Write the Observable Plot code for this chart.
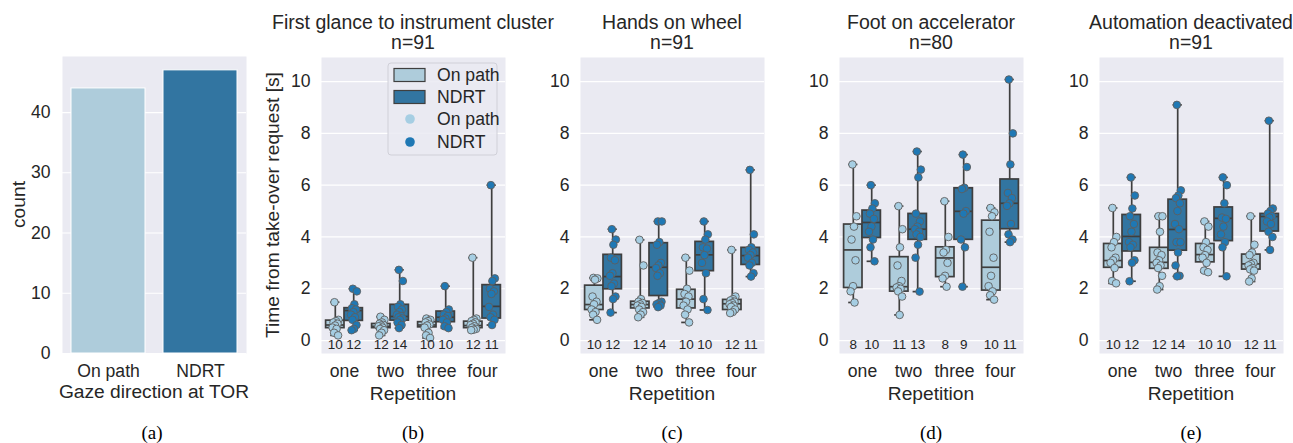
<!DOCTYPE html>
<html><head><meta charset="utf-8">
<script src="https://cdn.jsdelivr.net/npm/d3@7"></script>
<script src="https://cdn.jsdelivr.net/npm/@observablehq/plot@0.6"></script>
<style>
body{margin:0;background:#fff;}
#root{position:relative;width:1293px;height:443px;overflow:hidden;font-family:"Liberation Sans",Arial,sans-serif;}
#root svg{position:absolute;top:0;}
</style></head><body><div id="root"></div>
<script>
// ---------- data ----------
const reps = ["one", "two", "three", "four"];
const groups = ["On path", "NDRT"];
const gazeCounts = [44, 47];
const panelTitles = ["First glance to instrument cluster", "Hands on wheel", "Foot on accelerator", "Automation deactivated"];
const panelN = [91, 91, 80, 91];
const captions = ["(a)", "(b)", "(c)", "(d)", "(e)"];
const countTicks = [0, 10, 20, 30, 40];
const timeTicks = [0, 2, 4, 6, 8, 10];

// box statistics per repetition: [min, q1, median, q3, max]
const glanceOnPathBox = [[0.2, 0.48, 0.6, 0.77, 1.48], [0.2, 0.48, 0.55, 0.64, 0.92], [0.1, 0.51, 0.6, 0.71, 0.85], [0.4, 0.48, 0.58, 0.73, 3.2]];
const glanceNdrtBox = [[0.4, 0.76, 1.16, 1.25, 2.0], [0.48, 0.77, 0.93, 1.38, 2.73], [0.48, 0.71, 0.9, 1.12, 2.1], [0.6, 0.85, 1.32, 2.14, 6.0]];
const handsOnPathBox = [[0.8, 1.18, 1.39, 2.12, 2.42], [0.9, 1.24, 1.39, 1.5, 3.89], [0.7, 1.24, 1.6, 1.96, 3.2], [1.06, 1.18, 1.42, 1.57, 3.5]];
const handsNdrtBox = [[1.08, 1.98, 2.47, 3.31, 4.3], [1.29, 1.72, 2.83, 3.76, 4.6], [1.18, 2.68, 3.31, 3.81, 4.6], [2.47, 2.92, 3.28, 3.58, 6.59]];
const footOnPathBox = [[1.47, 2.03, 3.5, 4.48, 6.8], [0.99, 1.89, 2.08, 3.22, 5.19], [2.08, 2.45, 3.19, 3.6, 5.38], [1.58, 1.93, 2.83, 4.63, 5.12]];
const footNdrtBox = [[3.06, 3.96, 4.56, 5.02, 6.0], [1.89, 3.89, 4.3, 4.89, 7.3], [2.08, 3.89, 4.99, 5.88, 7.18], [3.8, 4.3, 5.3, 6.22, 10.08]];
const autoOnPathBox = [[2.21, 2.81, 3.09, 3.73, 5.12], [1.97, 2.77, 3.02, 3.58, 4.8], [2.64, 3.02, 3.32, 3.73, 4.6], [2.28, 2.74, 2.96, 3.32, 4.8]];
const autoNdrtBox = [[2.29, 3.44, 4.02, 4.85, 6.3], [2.48, 3.47, 4.29, 5.44, 9.1], [2.48, 3.84, 4.72, 5.14, 6.3], [3.5, 4.21, 4.79, 4.89, 8.49]];

// individual observations per repetition
const glanceOnPathPts = [
  [1.48, 0.8, 0.75, 0.7, 0.65, 0.58, 0.5, 0.45, 0.3, 0.2],
  [0.92, 0.8, 0.7, 0.65, 0.6, 0.58, 0.55, 0.5, 0.45, 0.4, 0.3, 0.2],
  [0.85, 0.8, 0.75, 0.7, 0.62, 0.58, 0.5, 0.3, 0.2, 0.1],
  [3.2, 0.85, 0.8, 0.75, 0.7, 0.65, 0.6, 0.55, 0.5, 0.45, 0.42, 0.4]];
const glanceNdrtPts = [
  [2.0, 1.9, 1.4, 1.25, 1.2, 1.1, 1.0, 0.9, 0.8, 0.6, 0.45, 0.4],
  [2.73, 2.3, 1.4, 1.3, 1.2, 1.1, 1.0, 0.95, 0.9, 0.85, 0.8, 0.7, 0.6, 0.48],
  [2.1, 1.2, 1.1, 1.0, 0.95, 0.85, 0.8, 0.7, 0.55, 0.48],
  [6.0, 2.4, 2.3, 2.0, 1.9, 1.8, 1.3, 1.0, 0.9, 0.8, 0.6]];
const handsOnPathPts = [
  [2.42, 2.4, 2.35, 1.7, 1.5, 1.4, 1.2, 1.1, 1.0, 0.8],
  [3.89, 2.9, 1.6, 1.5, 1.45, 1.4, 1.35, 1.3, 1.2, 1.1, 1.0, 0.9],
  [3.2, 2.7, 2.0, 1.8, 1.7, 1.5, 1.35, 1.2, 1.0, 0.7],
  [3.5, 1.7, 1.6, 1.55, 1.5, 1.45, 1.4, 1.35, 1.3, 1.2, 1.1, 1.06]];
const handsNdrtPts = [
  [4.3, 3.9, 3.7, 3.2, 3.1, 2.6, 2.5, 2.2, 2.1, 1.7, 1.6, 1.08],
  [4.6, 4.6, 3.8, 3.7, 3.0, 2.9, 2.8, 2.6, 2.5, 1.5, 1.45, 1.4, 1.35, 1.29],
  [4.6, 4.1, 3.9, 3.6, 3.55, 3.3, 3.0, 2.6, 1.6, 1.18],
  [6.59, 4.1, 3.6, 3.5, 3.4, 3.3, 3.2, 3.0, 2.9, 2.6, 2.47]];
const footOnPathPts = [
  [6.8, 4.8, 4.4, 3.9, 3.1, 2.1, 1.9, 1.47],
  [5.19, 4.3, 3.6, 2.9, 2.3, 2.1, 2.05, 2.0, 1.9, 1.7, 0.99],
  [5.38, 4.0, 3.5, 3.4, 3.0, 2.5, 2.4, 2.08],
  [5.12, 4.95, 4.8, 4.2, 3.2, 2.5, 2.1, 1.9, 1.75, 1.58]];
const footNdrtPts = [
  [6.0, 5.3, 5.1, 4.9, 4.7, 4.4, 4.2, 3.9, 3.6, 3.06],
  [7.3, 6.6, 6.3, 4.9, 4.6, 4.4, 4.3, 4.2, 4.1, 4.0, 3.7, 3.2, 1.89],
  [7.18, 6.7, 5.9, 5.85, 5.0, 4.9, 3.9, 3.6, 2.08],
  [10.08, 8.0, 6.8, 5.7, 5.5, 5.3, 5.2, 4.5, 4.1, 3.9, 3.8]];
const autoOnPathPts = [
  [5.12, 4.0, 3.8, 3.6, 3.2, 3.1, 3.0, 2.8, 2.3, 2.21],
  [4.8, 4.8, 4.2, 3.4, 3.3, 3.1, 3.0, 2.9, 2.8, 2.5, 2.1, 1.97],
  [4.6, 4.4, 3.8, 3.6, 3.5, 3.3, 3.2, 3.0, 2.7, 2.64],
  [4.8, 3.7, 3.4, 3.3, 3.0, 2.95, 2.9, 2.8, 2.75, 2.7, 2.4, 2.28]];
const autoNdrtPts = [
  [6.3, 5.6, 5.1, 4.8, 4.5, 4.2, 3.8, 3.7, 3.6, 3.1, 3.0, 2.29],
  [9.1, 5.8, 5.6, 5.5, 5.3, 5.0, 4.5, 4.3, 3.8, 3.8, 3.4, 2.9, 2.5, 2.48],
  [6.3, 6.0, 5.3, 4.75, 4.7, 4.4, 4.1, 3.8, 3.6, 2.48],
  [8.49, 5.1, 5.0, 4.9, 4.8, 4.75, 4.6, 4.5, 4.2, 4.0, 3.5]];

// ---------- styling ----------
const boxFill = ["#aeccdb", "#3275a1"];
const dotFill = ["#a6cee3", "#1f78b4"];
const lineCol = "#3f3f3f";
const bg = "#eaeaf2";
const textCol = "#262626";
const FONT = "'Liberation Sans', Arial, sans-serif";

const root = document.getElementById("root");

function place(svg, left) {
  svg.style.left = left + "px";
  root.appendChild(svg);
}

// ---------- panel (a) ----------
const gazeRows = groups.map((g, i) => ({g, c: gazeCounts[i], i}));
place(Plot.plot({
  width: 249, height: 400, marginLeft: 60, marginRight: 5, marginTop: 56, marginBottom: 47,
  style: {fontFamily: FONT, fontSize: "17.6px", color: textCol, background: "transparent", overflow: "visible"},
  x: {type: "band", domain: groups, paddingInner: 0.2, paddingOuter: 0.1, label: null},
  y: {domain: [0, 49.3], label: null},
  marks: [
    Plot.frame({fill: bg, stroke: null}),
    Plot.gridY(countTicks, {stroke: "white", strokeOpacity: 1, strokeWidth: 1.2}),
    Plot.axisY(countTicks, {tickSize: 0, tickPadding: 12, label: null}),
    Plot.axisX({tickSize: 0, tickPadding: 11, label: null}),
    Plot.barY(gazeRows, {x: "g", y: "c", fill: d => boxFill[d.i], stroke: "white", strokeWidth: 1})
  ]
}), 2);

// ---------- box panels ----------
const off = [-0.2, 0.2];
const half = 0.2, capHalf = 0.1;
const jit = k => ((((k * 0.6180339887) + 0.37) % 1) - 0.5) * 0.14;

function boxPanel(onBox, ndBox, onPts, ndPts) {
  const boxes = [onBox, ndBox], ptsArr = [onPts, ndPts];
  const rows = [];
  reps.forEach((r, i) => [0, 1].forEach(g => {
    const [mn, q1, md, q3, mx] = boxes[g][i];
    rows.push({i, g, mn, q1, md, q3, mx, n: ptsArr[g][i].length, c: i + off[g]});
  }));
  const pts = [];
  reps.forEach((r, i) => [0, 1].forEach(g => ptsArr[g][i].forEach((v, k) => pts.push({i, g, v, k}))));
  const lw = 1.7;
  return Plot.plot({
    width: 249, height: 400, marginLeft: 60, marginRight: 5, marginTop: 57, marginBottom: 47,
    style: {fontFamily: FONT, fontSize: "17.6px", color: textCol, background: "transparent", overflow: "visible"},
    x: {type: "linear", domain: [-0.5, 3.5], label: null},
    y: {domain: [-0.5, 10.93], label: null},
    marks: [
      Plot.frame({fill: bg, stroke: null}),
      Plot.gridY(timeTicks, {stroke: "white", strokeOpacity: 1, strokeWidth: 1.2}),
      Plot.axisY(timeTicks, {tickSize: 0, tickPadding: 11, label: null}),
      Plot.axisX([0, 1, 2, 3], {tickSize: 0, tickPadding: 11, tickFormat: i => reps[i], label: null}),
      Plot.ruleX(rows, {x: "c", y1: "mn", y2: "mx", stroke: lineCol, strokeWidth: lw}),
      Plot.ruleY(rows, {y: "mn", x1: d => d.c - capHalf, x2: d => d.c + capHalf, stroke: lineCol, strokeWidth: lw}),
      Plot.ruleY(rows, {y: "mx", x1: d => d.c - capHalf, x2: d => d.c + capHalf, stroke: lineCol, strokeWidth: lw}),
      Plot.rect(rows, {x1: d => d.c - half, x2: d => d.c + half, y1: "q1", y2: "q3", fill: d => boxFill[d.g], stroke: lineCol, strokeWidth: lw}),
      Plot.ruleY(rows, {y: "md", x1: d => d.c - half, x2: d => d.c + half, stroke: lineCol, strokeWidth: lw}),
      Plot.dot(pts, {x: d => d.i + off[d.g] + jit(d.k), y: "v", r: 3.8, fill: d => dotFill[d.g], stroke: "#5f5f5f", strokeWidth: 0.9}),
      Plot.text(rows, {x: "c", y: 0, text: d => String(d.n), fontSize: 13.5, dy: 4, fill: textCol})
    ]
  });
}

const lefts = [321, 580, 839, 1099];
place(boxPanel(glanceOnPathBox, glanceNdrtBox, glanceOnPathPts, glanceNdrtPts), lefts[0] - 60);
place(boxPanel(handsOnPathBox, handsNdrtBox, handsOnPathPts, handsNdrtPts), lefts[1] - 60);
place(boxPanel(footOnPathBox, footNdrtBox, footOnPathPts, footNdrtPts), lefts[2] - 60);
place(boxPanel(autoOnPathBox, autoNdrtBox, autoOnPathPts, autoNdrtPts), lefts[3] - 60);

// ---------- overlay texts & legend ----------
const ov = d3.create("svg").attr("width", 1293).attr("height", 443)
  .style("left", "0px").style("pointer-events", "none")
  .attr("font-family", FONT).attr("fill", textCol);
const centers = lefts.map(l => l + 92);
panelTitles.forEach((t, i) => {
  ov.append("text").attr("x", centers[i]).attr("y", 29).attr("text-anchor", "middle").attr("font-size", 19.5).text(t);
  ov.append("text").attr("x", centers[i]).attr("y", 48.5).attr("text-anchor", "middle").attr("font-size", 19.5).text("n=" + panelN[i]);
  ov.append("text").attr("x", centers[i]).attr("y", 400).attr("text-anchor", "middle").attr("font-size", 19.2).text("Repetition");
});
ov.append("text").attr("x", 154).attr("y", 398).attr("text-anchor", "middle").attr("font-size", 19.2).text("Gaze direction at TOR");
ov.append("text").attr("transform", "translate(25,204.5) rotate(-90)").attr("text-anchor", "middle").attr("font-size", 19.2).text("count");
ov.append("text").attr("transform", "translate(279,205) rotate(-90)").attr("text-anchor", "middle").attr("font-size", 19.2).text("Time from take-over request [s]");
const capX = [152, 413, 672, 931, 1191];
captions.forEach((c, i) => ov.append("text").attr("x", capX[i]).attr("y", 439).attr("text-anchor", "middle")
  .attr("font-family", "'Liberation Serif', 'Times New Roman', serif").attr("font-size", 19).attr("fill", "#000").text(c));

// legend
const lg = ov.append("g");
lg.append("rect").attr("x", 388).attr("y", 63).attr("width", 109).attr("height", 92).attr("rx", 3)
  .attr("fill", "#eaeaf2").attr("fill-opacity", 0.85).attr("stroke", "#d0d0d8").attr("stroke-width", 1);
const legRows = [
  {type: "patch", g: 0, y: 75, label: groups[0]},
  {type: "patch", g: 1, y: 97, label: groups[1]},
  {type: "dot", g: 0, y: 119, label: groups[0]},
  {type: "dot", g: 1, y: 142, label: groups[1]}
];
legRows.forEach(r => {
  if (r.type === "patch") {
    lg.append("rect").attr("x", 394).attr("y", r.y - 6.5).attr("width", 31).attr("height", 13)
      .attr("fill", boxFill[r.g]).attr("stroke", lineCol).attr("stroke-width", 1.2);
  } else {
    lg.append("circle").attr("cx", 410).attr("cy", r.y).attr("r", 4.8).attr("fill", dotFill[r.g]);
  }
  lg.append("text").attr("x", 437).attr("y", r.y + 6).attr("font-size", 17.6).text(r.label);
});
root.appendChild(ov.node());
</script></body></html>
